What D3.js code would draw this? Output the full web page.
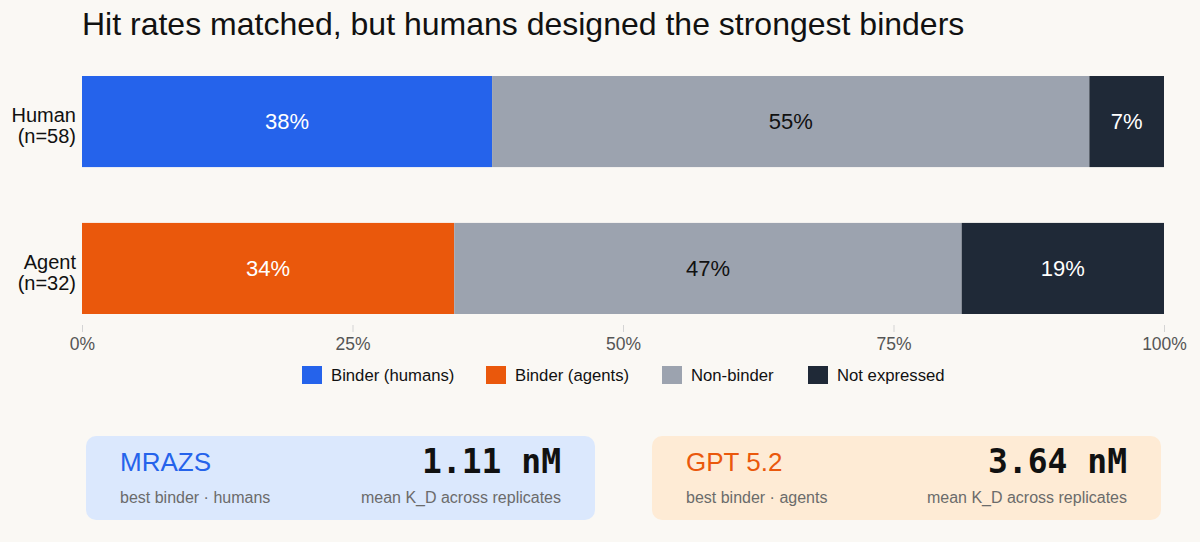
<!DOCTYPE html>
<html>
<head>
<meta charset="utf-8">
<script src="https://cdn.jsdelivr.net/npm/d3@7"></script>
<style>
  html, body { margin: 0; padding: 0; background: #faf8f4; }
  svg { display: block; font-family: "Liberation Sans", Arial, sans-serif; }
</style>
</head>
<body>
<div id="chart"></div>
<script>
// Groups and their segment shares (percent)
const groups = ["Human", "Agent"];
const groupSizes = [58, 32];
const binderShare = [37.9, 34.4];
const nonBinderShare = [55.2, 46.9];
const notExpressedShare = [6.9, 18.8];
const binderColors = ["#2563eb", "#ea580c"];

const legendLabels = ["Binder (humans)", "Binder (agents)", "Non-binder", "Not expressed"];
const legendColors = ["#2563eb", "#ea580c", "#9ca3af", "#1f2937"];
const xTicks = [0, 25, 50, 75, 100];

// Best binder cards
const cardNames = ["MRAZS", "GPT 5.2"];
const cardSubs = ["best binder · humans", "best binder · agents"];
const cardValues = ["1.11 nM", "3.64 nM"];
const cardColors = ["#dbe8fd", "#feebd5"];
const cardTextColors = ["#2563eb", "#ea580c"];

const width = 1200, height = 542;
const margin = { left: 82, right: 36 };

const svg = d3.select("#chart").append("svg")
  .attr("width", width).attr("height", height);

svg.append("text")
  .attr("x", 82).attr("y", 35)
  .style("font-size", "32px").attr("fill", "#111")
  .text("Hit rates matched, but humans designed the strongest binders");

const x = d3.scaleLinear().domain([0, 100]).range([margin.left, width - margin.right]);
const y = d3.scaleBand().domain(groups).range([76, 314]).paddingInner(0.38).paddingOuter(0);

// Axis
const axis = svg.append("g")
  .attr("transform", "translate(0,325)")
  .call(d3.axisBottom(x).tickValues(xTicks).tickFormat(d => d + "%").tickSize(7).tickPadding(6));
axis.select(".domain").remove();
axis.selectAll("line").attr("stroke", "#d4d4d4");
axis.selectAll("text").style("font-size", "17.5px").attr("fill", "#555").style("font-family", "Liberation Sans, Arial, sans-serif");

// Bars
groups.forEach((g, i) => {
  const segs = [
    { v: binderShare[i], c: binderColors[i], t: "#fff" },
    { v: nonBinderShare[i], c: "#9ca3af", t: "#111" },
    { v: notExpressedShare[i], c: "#1f2937", t: "#fff" }
  ];
  let acc = 0;
  segs.forEach(s => { s.x0 = acc; acc += s.v; s.x1 = acc; });
  const row = svg.append("g");
  row.selectAll("rect").data(segs).enter().append("rect")
    .attr("x", d => x(d.x0))
    .attr("y", y(g))
    .attr("width", d => x(Math.min(d.x1, 100)) - x(d.x0))
    .attr("height", y.bandwidth())
    .attr("fill", d => d.c);
  row.selectAll("text").data(segs).enter().append("text")
    .attr("x", d => (x(d.x0) + x(Math.min(d.x1, 100))) / 2)
    .attr("y", y(g) + y.bandwidth() / 2)
    .attr("dy", "0.35em")
    .attr("text-anchor", "middle")
    .style("font-size", "22px")
    .attr("fill", d => d.t)
    .text(d => Math.round(d.v) + "%");
  const lab = svg.append("text")
    .attr("text-anchor", "end")
    .style("font-size", "20px").attr("fill", "#111");
  lab.append("tspan").attr("x", 76).attr("y", y(g) + y.bandwidth() / 2 + 0.5).text(g);
  lab.append("tspan").attr("x", 76).attr("y", y(g) + y.bandwidth() / 2 + 21.5).text("(n=" + groupSizes[i] + ")");
});

// Legend
const legendX = [302, 486, 662, 808];
const legend = svg.append("g");
legendLabels.forEach((l, i) => {
  legend.append("rect")
    .attr("x", legendX[i]).attr("y", 366).attr("width", 20).attr("height", 18)
    .attr("fill", legendColors[i]);
  legend.append("text")
    .attr("x", legendX[i] + 29).attr("y", 381)
    .style("font-size", "16.7px").attr("fill", "#111")
    .text(l);
});

// Cards
const cardX = [86, 652];
const cardW = 509;
cardNames.forEach((n, i) => {
  const g = svg.append("g").attr("transform", `translate(${cardX[i]},436)`);
  g.append("rect").attr("width", cardW).attr("height", 84).attr("rx", 10)
    .attr("fill", cardColors[i]);
  g.append("text").attr("x", 34).attr("y", 35)
    .style("font-size", "26px").attr("fill", cardTextColors[i]).text(n);
  g.append("text").attr("x", cardW - 34).attr("y", 37)
    .attr("text-anchor", "end")
    .style("font-family", "DejaVu Sans Mono, monospace")
    .style("font-weight", "bold").style("font-size", "33px").attr("fill", "#111")
    .text(cardValues[i]);
  g.append("text").attr("x", 34).attr("y", 67)
    .style("font-size", "16px").attr("fill", "#6b6b6b").text(cardSubs[i]);
  g.append("text").attr("x", cardW - 34).attr("y", 67)
    .attr("text-anchor", "end")
    .style("font-size", "16px").attr("fill", "#6b6b6b").text("mean K_D across replicates");
});
</script>
</body>
</html>
